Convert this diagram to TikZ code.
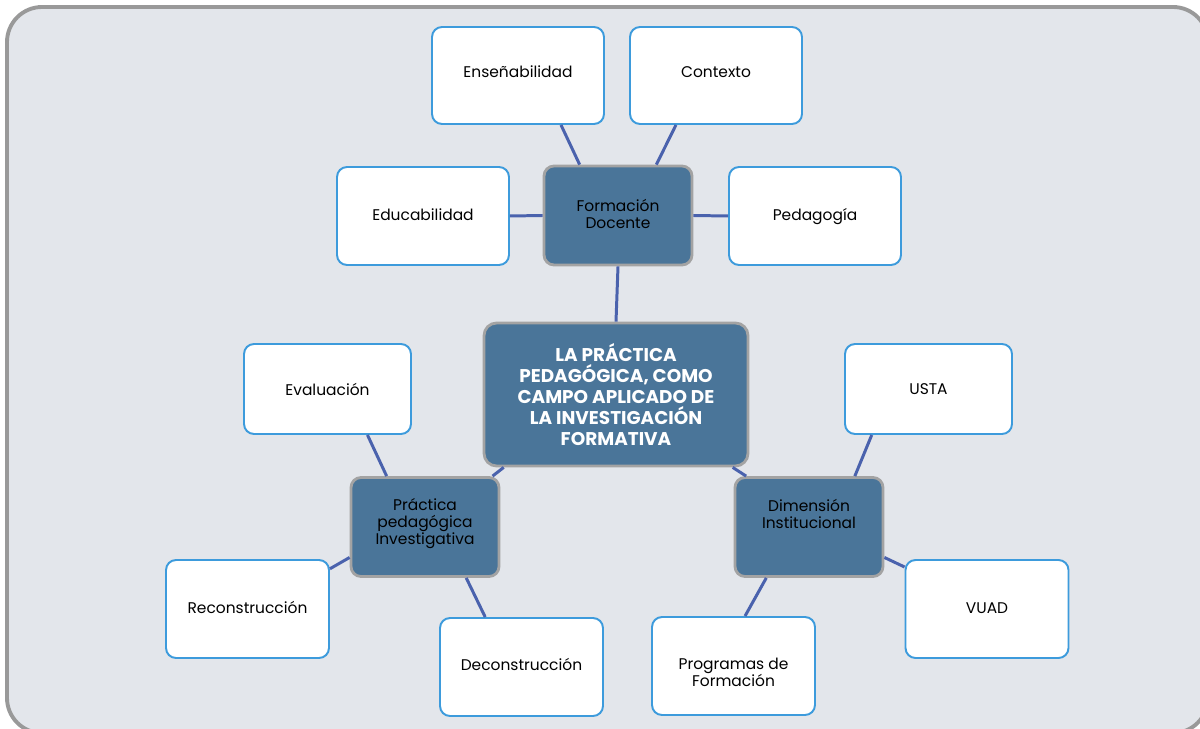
\documentclass[tikz,border=0pt]{standalone}
\usepackage{fontspec}
\setmainfont{Poppins}
\usetikzlibrary{calc}

\definecolor{panelgray}{HTML}{E3E6EB}
\definecolor{framegray}{HTML}{999999}
\definecolor{hubblue}{HTML}{4A7599}
\definecolor{hubgray}{HTML}{A3A3A3}
\definecolor{leafblue}{HTML}{3D9BDC}
\definecolor{linkblue}{HTML}{4A62AD}

% shift a block of centred lines inside a box
\newcommand{\lift}[2]{\raisebox{#1}[\height][\depth]{\begin{tabular}{@{}c@{}}#2\end{tabular}}}

\begin{document}
\begin{tikzpicture}[x=0.02cm, y=-0.02cm]
{\fontsize{8.8}{9.6}\selectfont
	\tikzstyle{leaf} = [rectangle, rounded corners=0.2cm, draw=leafblue, line width=1.1pt, fill=white, align=center, text=black]
	\tikzstyle{hub} = [rectangle, rounded corners=0.2cm, draw=hubgray, line width=1.6pt, fill=hubblue, minimum width=2.96cm, minimum height=1.98cm, align=center, text=black]
	\tikzstyle{link} = [draw=linkblue, line width=1.7pt]

	\useasboundingbox (0,0) rectangle (1200,729);
	\draw [draw=framegray, fill=panelgray, line width=2.2pt, rounded corners=0.7cm] (7,7) rectangle (1208,733);

	% centre
	\node (core) [hub, minimum width=5.28cm, minimum height=2.86cm, rounded corners=0.25cm, text=white, font=\fontsize{10.5}{11.9}\selectfont\bfseries] at (616,394.5) {LA PRÁCTICA\\PEDAGÓGICA, COMO\\CAMPO APLICADO DE\\LA INVESTIGACIÓN\\FORMATIVA};

	% hubs
	\node (form) [hub] at (618,215.5) {\lift{-0.5pt}{Formación\\Docente}};
	\node (prac) [hub] at (425,527) {\lift{1.9pt}{Práctica\\pedagógica\\Investigativa}};
	\node (dim) [hub] at (809,527) {\lift{5.9pt}{Dimensión\\Institucional}};

	% leaves
	\node (ens) [leaf, minimum width=3.44cm, minimum height=1.94cm] at (518,75.5) {\lift{1pt}{Enseñabilidad}};
	\node (ctx) [leaf, minimum width=3.44cm, minimum height=1.94cm] at (716,75.5) {\lift{1pt}{Contexto}};
	\node (edu) [leaf, minimum width=3.44cm, minimum height=1.96cm] at (423,216) {\lift{-0.5pt}{Educabilidad}};
	\node (ped) [leaf, minimum width=3.44cm, minimum height=1.96cm] at (815,216) {\lift{-0.5pt}{Pedagogía}};
	\node (eval) [leaf, minimum width=3.34cm, minimum height=1.8cm] at (327.5,389) {Evaluación};
	\node (usta) [leaf, minimum width=3.34cm, minimum height=1.8cm] at (928.5,389) {USTA};
	\node (rec) [leaf, minimum width=3.26cm, minimum height=1.96cm] at (247.5,609) {\lift{-0.5pt}{Reconstrucción}};
	\node (vuad) [leaf, minimum width=3.26cm, minimum height=1.96cm] at (987,609) {\lift{-0.5pt}{VUAD}};
	\node (dec) [leaf, minimum width=3.26cm, minimum height=1.96cm] at (521.5,667) {\lift{0.2pt}{Deconstrucción}};
	\node (prog) [leaf, minimum width=3.26cm, minimum height=1.96cm] at (733.5,666) {\lift{-4.8pt}{Programas de\\Formación}};

	\draw [link](ens.-49) -- (form.127.5);
	\draw [link](ctx.231) -- (form.53);
	\draw [link](edu.east) -- (form.west);
	\draw [link](ped.west) -- (form.east);
	\draw [link](form.south) -- (core.north);
	\draw [link](core.213.5) -- (prac.37);
	\draw [link](core.-32.6) -- (dim.141);
	\draw [link](eval.-49.5) -- (prac.127);
	\draw [link](rec.26.7) -- (prac.202.7);
	\draw [link](dec.126) -- (prac.-51.5);
	\draw [link](usta.219) -- (dim.48.7);
	\draw [link](vuad.153) -- (dim.-22.5);
	\draw [link](prog.77) -- (dim.-130.6);
	}
\end{tikzpicture}
\end{document}
